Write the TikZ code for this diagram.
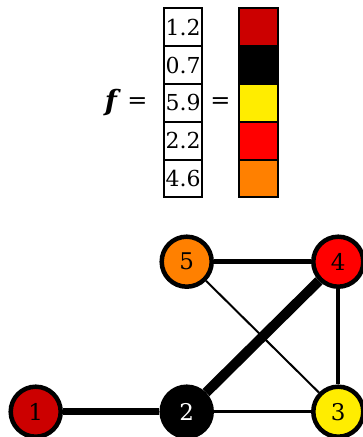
\documentclass[tikz,border=0pt]{standalone}
\usepackage{fontspec}
\setmainfont{DejaVu Serif}
\definecolor{cdred}{rgb}{0.8,0,0}
\definecolor{cyel}{rgb}{1,0.93,0}
\definecolor{cred}{rgb}{1,0,0}
\definecolor{corange}{rgb}{1,0.5,0}
\begin{document}
\begin{tikzpicture}[x=1pt,y=-1pt,
  vnode/.style={circle,draw=black,line width=4.5pt,minimum size=50pt,inner sep=0pt,font=\fontsize{23}{26}\selectfont},
  valbox/.style={rectangle,draw=black,line width=2pt,minimum width=38pt,minimum height=37.8pt,inner sep=0pt,font=\fontsize{22}{25}\selectfont},
  colbox/.style={rectangle,draw=black,line width=2pt,minimum width=38.4pt,minimum height=37.8pt,inner sep=0pt},
  eqtxt/.style={inner sep=0pt,font=\fontsize{24}{28}\selectfont}]
\useasboundingbox (0,0) rectangle (363,437);
\clip (0,0) rectangle (363,437);
% value column
\node[valbox] (v1) at (183.2,27.2) {1.2};
\node[valbox] (v2) at (183.2,65.0) {0.7};
\node[valbox] (v3) at (183.2,102.8) {5.9};
\node[valbox] (v4) at (183.2,140.6) {2.2};
\node[valbox] (v5) at (183.2,178.4) {4.6};
% colour column
\node[colbox,fill=cdred] (c1) at (258.5,27.2) {};
\node[colbox,fill=black] (c2) at (258.5,65.0) {};
\node[colbox,fill=cyel] (c3) at (258.5,102.8) {};
\node[colbox,fill=cred] (c4) at (258.5,140.6) {};
\node[colbox,fill=corange] (c5) at (258.5,178.4) {};
% labels
\node[eqtxt,anchor=base,font=\fontsize{28}{32}\selectfont] (flab) at (113,110) {\textbf{\textit{f}}};
\node[eqtxt,anchor=base] (eq1) at (137.5,108.5) {=};
\node[eqtxt,anchor=base] (eq2) at (220.5,108.5) {=};
% vertices
\node[vnode,fill=cdred] (n1) at (35.7,411.7) {1};
\node[vnode,fill=black,text=white] (n2) at (186.7,411.7) {2};
\node[vnode,fill=cyel] (n3) at (338.3,411.7) {3};
\node[vnode,fill=cred] (n4) at (338.3,261.7) {4};
\node[vnode,fill=corange] (n5) at (186.7,261.7) {5};
% edges
\draw[line width=6.5pt] (n1) -- (n2);
\draw[line width=10pt] (n2) -- (n4);
\draw[line width=5pt] (n5) -- (n4);
\draw[line width=4pt] (n4) -- (n3);
\draw[line width=2pt] (n5) -- (n3);
\draw[line width=2.5pt] (n2) -- (n3);
\end{tikzpicture}
\end{document}
